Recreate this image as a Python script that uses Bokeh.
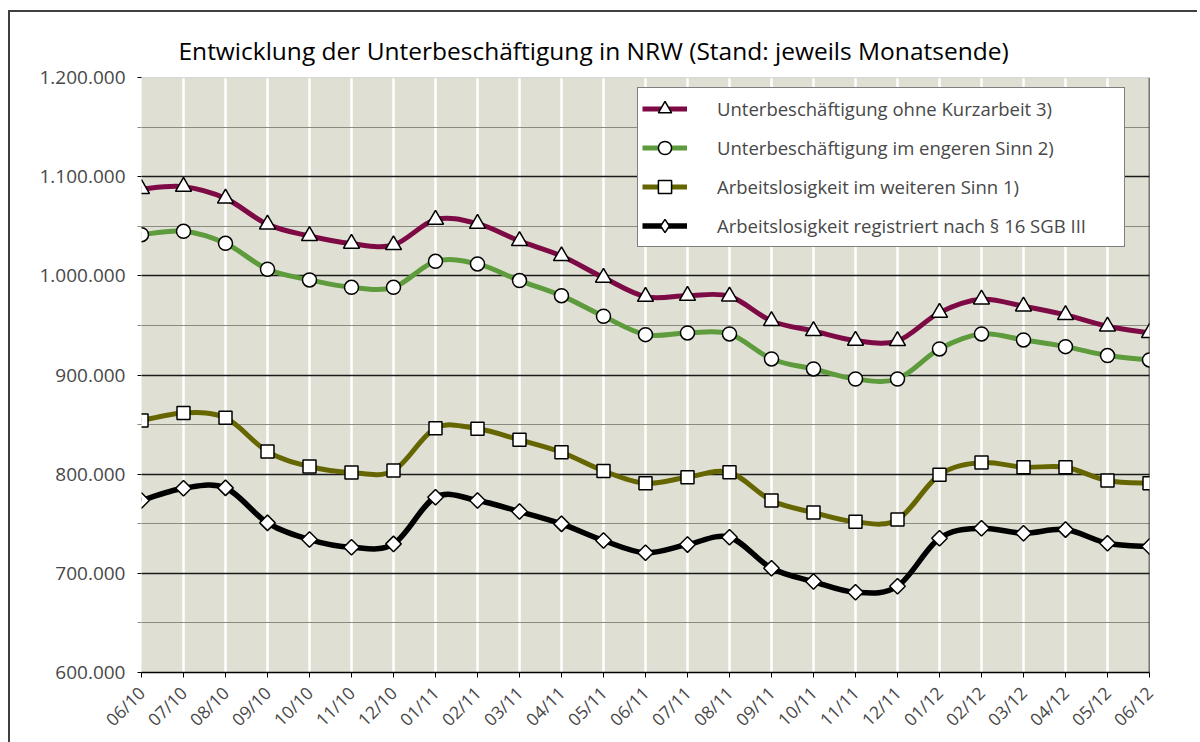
from math import pi
from bokeh.plotting import figure
from bokeh.models import (FixedTicker, Legend, LegendItem, Span, Range1d,
                          ColumnDataSource)
from bokeh.embed import file_html
from bokeh.resources import INLINE

# ---------------- data ----------------
months = ["06/10", "07/10", "08/10", "09/10", "10/10", "11/10", "12/10",
          "01/11", "02/11", "03/11", "04/11", "05/11", "06/11", "07/11",
          "08/11", "09/11", "10/11", "11/11", "12/11", "01/12", "02/12",
          "03/12", "04/12", "05/12", "06/12"]

ohne_kurzarbeit = [1087600, 1089900, 1078100, 1051900, 1040200, 1032500, 1031100,
                   1056700, 1052600, 1035200, 1020000, 998200, 979000, 980000,
                   979400, 954500, 944400, 934700, 934400, 962900, 976300,
                   969300, 960600, 949100, 942400]
engerer_sinn = [1041500, 1044900, 1032800, 1006600, 995900, 988400, 988400,
                1014600, 1012000, 995200, 980000, 959200, 940700, 942400,
                941400, 916200, 906100, 896000, 896000, 926300, 941400,
                935400, 928600, 919600, 915200]
weiterer_sinn = [854000, 861800, 856800, 822800, 807700, 801600, 803600,
                 846300, 845700, 834600, 822100, 803300, 790800, 796900,
                 801900, 773400, 761300, 751900, 754200, 799300, 811700,
                 807000, 807000, 793500, 790800]
registriert = [773400, 785800, 786200, 750900, 734100, 726300, 729700,
               776700, 773400, 762300, 749900, 733100, 720700, 729000,
               736400, 705100, 691700, 680900, 687000, 735400, 745500,
               740400, 744100, 730400, 727000]

series_labels = ["Unterbeschäftigung ohne Kurzarbeit 3)",
                 "Unterbeschäftigung im engeren Sinn 2)",
                 "Arbeitslosigkeit im weiteren Sinn 1)",
                 "Arbeitslosigkeit registriert nach § 16 SGB III"]

y_ticks = [600000, 700000, 800000, 900000, 1000000, 1100000, 1200000]
y_tick_labels = ["600.000", "700.000", "800.000", "900.000",
                 "1.000.000", "1.100.000", "1.200.000"]

title_text = "Entwicklung der Unterbeschäftigung in NRW (Stand: jeweils Monatsende)"

# ---------------- styles ----------------
FONT = "Open Sans"
TXT = "#484848"
colors = ["#7D0A45", "#5E9B3D", "#666600", "#000000"]
markers = ["triangle", "circle", "square", "square"]
legend_markers = ["triangle", "circle", "square", "diamond"]
marker_sizes = [16, 14, 13, 11]
marker_angles = [0, 0, 0, pi / 4]

xs = list(range(len(months)))

p = figure(frame_width=1008, frame_height=595,
           x_range=Range1d(xs[0], xs[-1]),
           y_range=Range1d(y_ticks[0], y_ticks[-1]),
           output_backend="svg", toolbar_location=None,
           min_border_left=131, min_border_top=65, min_border_right=48,
           min_border_bottom=68,
           background_fill_color="#DFE0D3", border_fill_color="white",
           outline_line_color=None)
p.styles = {"margin-left": "8px", "margin-top": "10px",
            "border-left": "2px solid #404040", "border-top": "2px solid #404040"}

p.title.text = title_text
p.title.text_font = FONT
p.title.text_font_size = "24.5px"
p.title.text_font_style = "normal"
p.title.text_color = "black"
p.title.align = "left"
p.title.offset = 37
p.title.standoff = 22

# x axis
p.xaxis.ticker = FixedTicker(ticks=xs)
p.xaxis.major_label_overrides = {i: m for i, m in enumerate(months)}
p.xaxis.major_label_orientation = pi / 4
p.xaxis.major_label_text_font = FONT
p.xaxis.major_label_text_font_size = "17.5px"
p.xaxis.major_label_text_color = TXT
p.xaxis.axis_line_color = "black"
p.xaxis.axis_line_width = 1.3
p.xaxis.major_tick_line_color = "black"
p.xaxis.major_tick_out = 5
p.xaxis.major_tick_in = 0
p.xaxis.minor_tick_line_color = None
p.xaxis.major_label_standoff = 12

# y axis
mids = [(a + b) / 2 for a, b in zip(y_ticks[:-1], y_ticks[1:])]
p.yaxis.ticker = FixedTicker(ticks=y_ticks, minor_ticks=mids)
p.yaxis.major_label_overrides = dict(zip(y_ticks, y_tick_labels))
p.yaxis.major_label_text_font = FONT
p.yaxis.major_label_text_font_size = "19px"
p.yaxis.major_label_text_color = TXT
p.yaxis.axis_line_color = None
p.yaxis.major_tick_line_color = "black"
p.yaxis.major_tick_out = 4
p.yaxis.major_tick_in = 0
p.yaxis.minor_tick_line_color = "#8a8a80"
p.yaxis.minor_tick_out = 4
p.yaxis.minor_tick_in = 0
p.yaxis.major_label_standoff = 12

# grids
p.xgrid.ticker = FixedTicker(ticks=xs[1:-1])
p.xgrid.grid_line_color = "white"
p.xgrid.grid_line_width = 2.5
p.ygrid.ticker = FixedTicker(ticks=y_ticks[1:-1], minor_ticks=mids)
p.ygrid.grid_line_color = "#1a1a1a"
p.ygrid.grid_line_width = 1.3
p.ygrid.minor_grid_line_color = "#8a8a80"
p.ygrid.minor_grid_line_width = 1

p.add_layout(Span(location=y_ticks[-1], dimension="width", line_color="#c8c8c8",
                  line_width=1.5, level="underlay"))
p.add_layout(Span(location=xs[-1], dimension="height", line_color="black",
                  line_width=1.5, level="underlay"))

# smooth lines (Excel-like bezier) + markers
items = []
for vals, col, mk, lmk, ms, ang, lab in zip(
        [ohne_kurzarbeit, engerer_sinn, weiterer_sinn, registriert],
        colors, markers, legend_markers, marker_sizes, marker_angles,
        series_labels):
    n = len(vals)
    x0, y0, x1, y1, cx0, cy0, cx1, cy1 = ([] for _ in range(8))
    for i in range(n - 1):
        im1 = max(i - 1, 0)
        ip2 = min(i + 2, n - 1)
        x0.append(xs[i]); y0.append(vals[i])
        x1.append(xs[i + 1]); y1.append(vals[i + 1])
        cx0.append(xs[i] + (xs[i + 1] - xs[im1]) / 6)
        cy0.append(vals[i] + (vals[i + 1] - vals[im1]) / 6)
        cx1.append(xs[i + 1] - (xs[ip2] - xs[i]) / 6)
        cy1.append(vals[i + 1] - (vals[ip2] - vals[i]) / 6)
    bsrc = ColumnDataSource(dict(x0=x0, y0=y0, x1=x1, y1=y1,
                                 cx0=cx0, cy0=cy0, cx1=cx1, cy1=cy1))
    bz = p.bezier(x0="x0", y0="y0", x1="x1", y1="y1", cx0="cx0", cy0="cy0",
                  cx1="cx1", cy1="cy1", source=bsrc, line_color=col,
                  line_width=5 if col != "#000000" else 5.5)
    sc = p.scatter(xs, vals, marker=mk, size=ms, angle=ang, fill_color="white",
                   line_color="black", line_width=1.5)
    if lmk != mk:
        leg_sc = p.scatter(xs, vals, marker=lmk, size=ms, fill_color="white",
                           line_color="black", line_width=1.5, visible=False)
        items.append(LegendItem(label=lab, renderers=[bz, leg_sc]))
    else:
        items.append(LegendItem(label=lab, renderers=[bz, sc]))

legend = Legend(items=items, location=(496, 425),
                border_line_color="black", border_line_width=1,
                background_fill_color="white", background_fill_alpha=1,
                inactive_fill_alpha=0,
                label_text_font=FONT, label_text_font_size="18.5px",
                label_text_color=TXT, glyph_width=45, glyph_height=33,
                label_height=33, spacing=6, padding=4, margin=0,
                label_standoff=30, label_width=403)
p.add_layout(legend)

open("out.html", "w").write(file_html(p, INLINE))
